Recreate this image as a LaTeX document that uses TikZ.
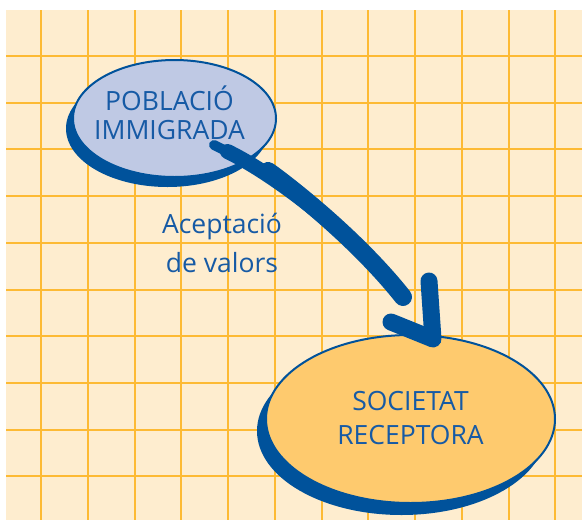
\documentclass[tikz,border=0pt]{standalone}
\usepackage{fontspec}
\setmainfont{Open Sans}
\usetikzlibrary{shadows, positioning, shapes.geometric, calc}
\definecolor{my_blue}{RGB}{0, 82, 155}
\definecolor{my_text}{RGB}{22, 90, 165}
\definecolor{my_lilac}{RGB}{191, 201, 228}
\definecolor{my_orange}{RGB}{254, 202, 110}
\definecolor{my_cream}{RGB}{254, 237, 207}
\definecolor{my_grid}{RGB}{253, 186, 52}
\tikzset {
  paper/.style = {fill=my_cream},
  gridline/.style = {draw=my_grid, line width=2pt},
  group/.style = {draw=my_blue, line width=2pt, ellipse, inner sep=0pt},
  grouptext/.style = {align=center, text=my_text, inner sep=0pt},
  shadowed/.style 2 args = {drop shadow={shadow xshift=#1, shadow yshift=#2, fill=my_blue, opacity=1}},
  brush/.style = {draw=my_blue, line cap=round, line join=round},
  caption/.style = {align=center, text=my_text, font=\fontsize{26.5}{39}\selectfont}
}

\begin{document}
\begin{tikzpicture}[x=1pt, y=-1pt]

    \useasboundingbox (0,0) rectangle (582,520);
    \fill[paper] (6,10) rectangle (582,520);
    \foreach \x in {0,...,11}
        \draw[gridline] ({41+46.75*\x},10) -- ({41+46.75*\x},520);
    \foreach \y in {0,...,9}
        \draw[gridline] (6,{56+46.7*\y}) -- (582,{56+46.7*\y});

    \node[group, fill=my_lilac, shadowed={-7pt}{-10pt}, minimum width=203pt, minimum height=117pt, name=pob] (pob) at (174.5,118.5) {};
    \node[grouptext, font=\fontsize{26.5}{29}\selectfont, name=pob_text] (pob_text) at ($(pob)+(-5,-6)$) {POBLACIÓ\\IMMIGRADA};

    \node[group, fill=my_orange, shadowed={-9pt}{-12pt}, minimum width=289pt, minimum height=168pt, name=soc] (soc) at (410.5,419) {};
    \node[grouptext, font=\fontsize{26.5}{34}\selectfont, name=soc_text] (soc_text) at ($(soc)+(0,-1)$) {SOCIETAT\\RECEPTORA};

    \node[caption, name=valors] (valors) at (222,243) {Aceptació\\de valors};

    % brushed shaft, thin at the start
    \coordinate (brush_start) at (214,145);
    \coordinate (brush_end) at (403,297);
    \draw[brush, line width=10pt] (brush_start) .. controls (270,172) and (350,230) .. (brush_end);
    \draw[brush, line width=15pt, shorten <=15pt] (brush_start) .. controls (270,172) and (350,230) .. (brush_end);
    \draw[brush, line width=18pt, shorten <=60pt] (brush_start) .. controls (270,172) and (350,230) .. (brush_end);

    % open head
    \coordinate (barb_left) at (391,322);
    \coordinate (barb_right) at (429,281);
    \coordinate (tip) at (433,339);
    \draw[brush, line width=17pt] (barb_left) -- (tip) -- (barb_right);

\end{tikzpicture}
\end{document}
